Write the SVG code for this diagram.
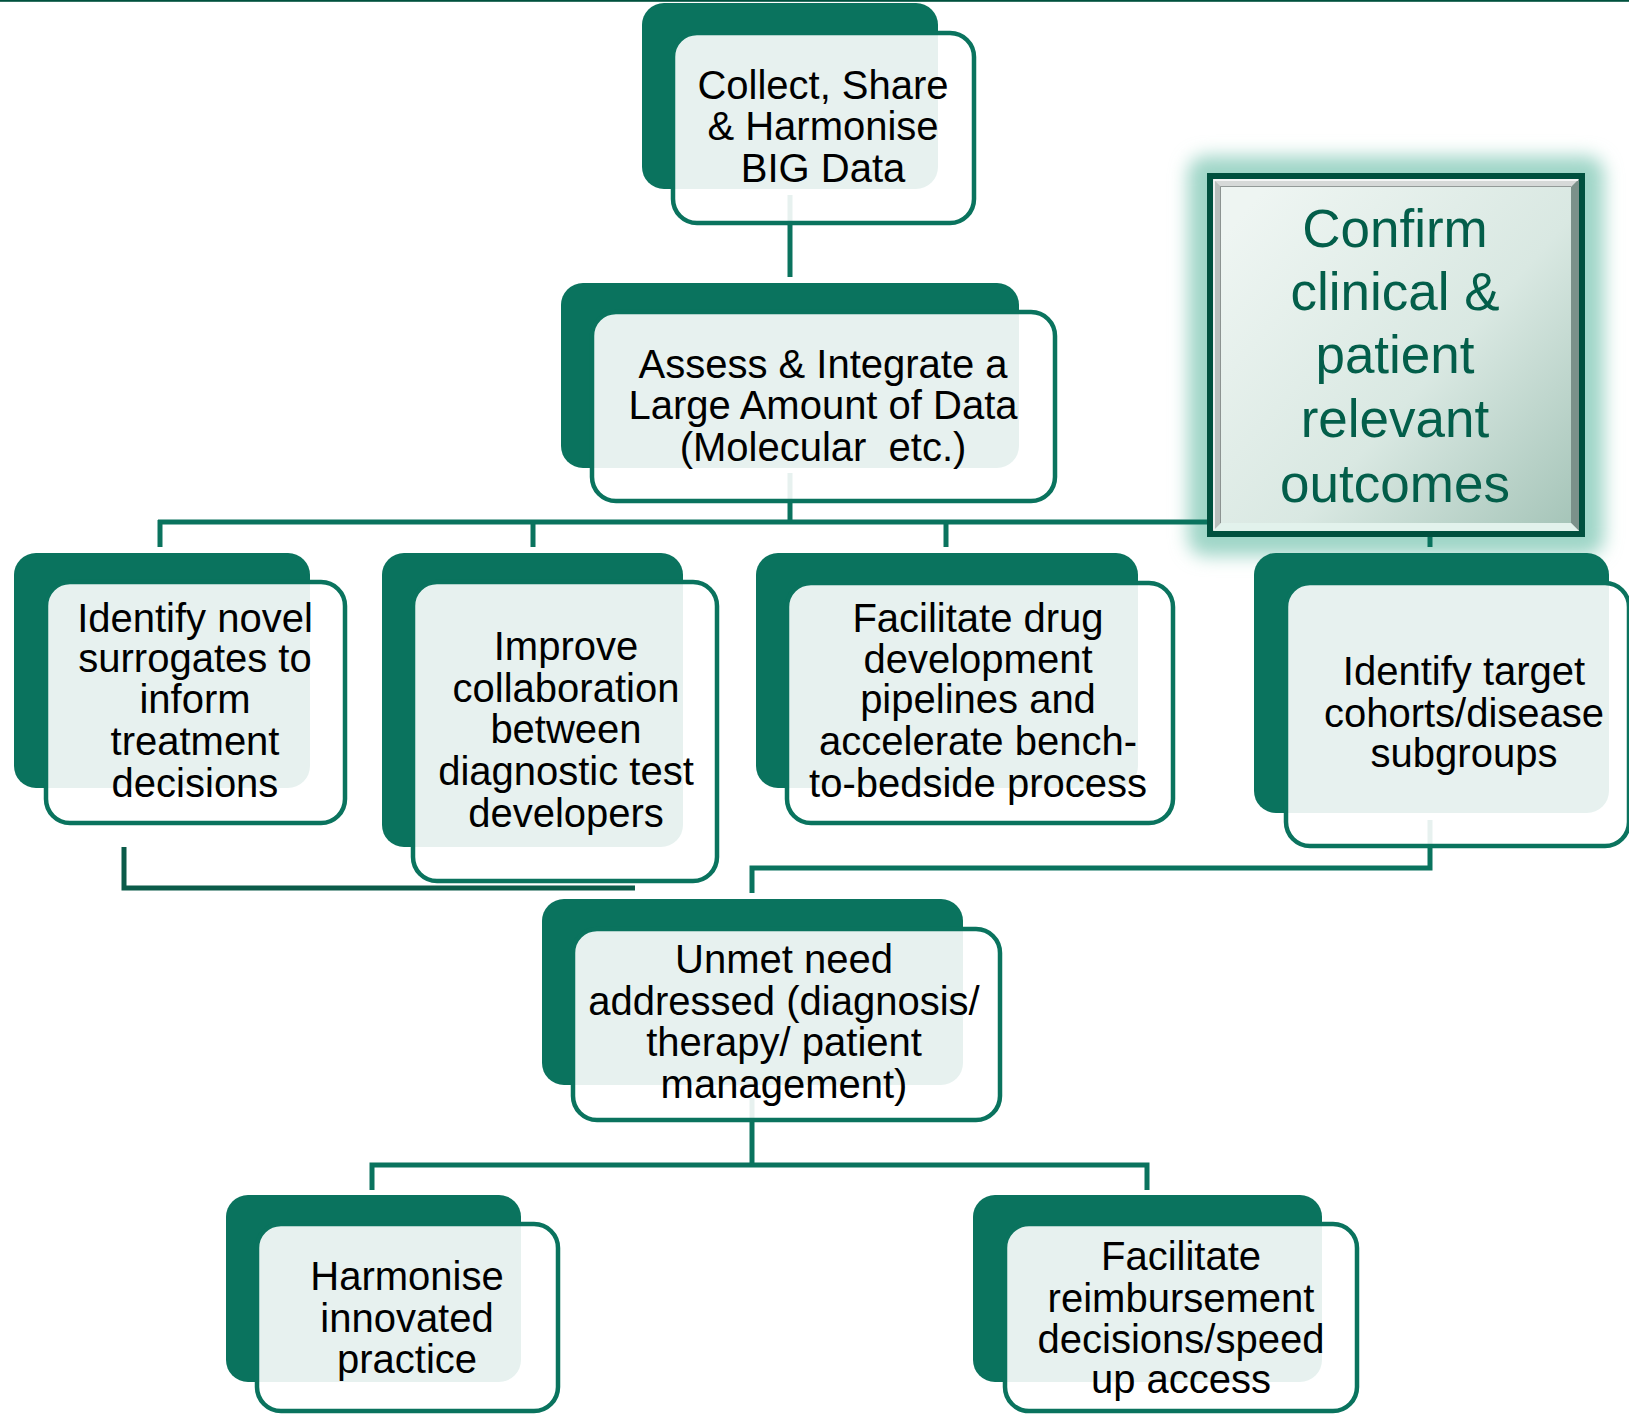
<svg xmlns="http://www.w3.org/2000/svg" width="1629" height="1414" viewBox="0 0 1629 1414">
<style>
.back{fill:#0a735e}
.front{fill:#ffffff;fill-opacity:0.9;stroke:#0a735e;stroke-width:4.5}
.conn{fill:none;stroke:#0a735e;stroke-width:5}
.conn2{fill:none;stroke:#0b5b49;stroke-width:5}
.t{font-family:"Liberation Sans",Arial,sans-serif;font-size:40px;fill:#000000;text-anchor:middle}
.ct{font-family:"Liberation Sans",Arial,sans-serif;font-size:53px;fill:#035e4a;text-anchor:middle}
</style>
<defs>
<filter id="glow" x="-20%" y="-20%" width="140%" height="140%">
<feGaussianBlur stdDeviation="9"/>
</filter>
<linearGradient id="cfill" x1="0" y1="0.15" x2="1" y2="1">
<stop offset="0" stop-color="#eef5f2"/>
<stop offset="0.55" stop-color="#d9e8e2"/>
<stop offset="1" stop-color="#a6c5b9"/>
</linearGradient>
</defs>
<rect x="0" y="0" width="1629" height="1.8" fill="#00513e"/>

<g id="confirm-glow">
<rect x="1188" y="156" width="416" height="400" rx="18" fill="#9fd5c7" filter="url(#glow)"/>
</g>

<g id="connectors">
<path class="conn" d="M790,195 V277"/>
<path class="conn" d="M790,473 V522"/>
<path class="conn" d="M158,522 H1209"/>
<path class="conn" d="M160,520 V547"/>
<path class="conn" d="M533,522 V547"/>
<path class="conn" d="M946,522 V547"/>
<path class="conn" d="M1430,536 V547"/>
<path class="conn" d="M1430,820 V868 H752 V893"/>
<path class="conn2" d="M124,847 V888 H635"/>
<path class="conn" d="M752,1098 V1165"/>
<path class="conn" d="M372,1190 V1165 H1147 V1190"/>
</g>

<g id="confirm">
<rect x="1207" y="173" width="378" height="364" fill="#00503e"/>
<rect x="1213" y="179" width="366" height="352" fill="#c9cdcb"/>
<polygon points="1213,179 1579,179 1571,187 1221,187" fill="#d6d9d8"/>
<polygon points="1213,179 1221,187 1221,523 1213,531" fill="#b9bebc"/>
<polygon points="1579,179 1579,531 1571,523 1571,187" fill="#7b918a"/>
<polygon points="1213,531 1221,523 1571,523 1579,531" fill="#e2f2ec"/>
<path d="M1214,530 V180 H1578" fill="none" stroke="#ffffff" stroke-width="1.5"/>
<path d="M1221,523 V187 H1571" fill="none" stroke="#7e8583" stroke-width="1.5"/>
<rect x="1221" y="187" width="350" height="336" fill="url(#cfill)"/>
<text class="ct" x="1395" y="247">Confirm</text>
<text class="ct" x="1395" y="310">clinical &amp;</text>
<text class="ct" x="1395" y="373">patient</text>
<text class="ct" x="1395" y="437">relevant</text>
<text class="ct" x="1395" y="502">outcomes</text>
</g>

<g id="n1">
<rect class="back" x="642" y="3" width="296" height="186" rx="22"/>
<rect class="front" x="673" y="33" width="301" height="190" rx="24"/>
<text class="t" x="823" y="99">Collect, Share</text>
<text class="t" x="823" y="140">&amp; Harmonise</text>
<text class="t" x="823" y="182">BIG Data</text>
</g>

<g id="n2">
<rect class="back" x="561" y="283" width="458" height="185" rx="22"/>
<rect class="front" x="592" y="312" width="463" height="189" rx="24"/>
<text class="t" x="823" y="378">Assess &amp; Integrate a</text>
<text class="t" x="823" y="419">Large Amount of Data</text>
<text class="t" x="823" y="461" xml:space="preserve">(Molecular  etc.)</text>
</g>

<g id="n3">
<rect class="back" x="14" y="553" width="296" height="235" rx="22"/>
<rect class="front" x="46" y="582" width="299" height="241" rx="24"/>
<text class="t" x="195" y="632">Identify novel</text>
<text class="t" x="195" y="672">surrogates to</text>
<text class="t" x="195" y="713">inform</text>
<text class="t" x="195" y="755">treatment</text>
<text class="t" x="195" y="797">decisions</text>
</g>

<g id="n4">
<rect class="back" x="382" y="553" width="301" height="294" rx="22"/>
<rect class="front" x="413" y="582" width="304" height="299" rx="24"/>
<text class="t" x="566" y="660">Improve</text>
<text class="t" x="566" y="702">collaboration</text>
<text class="t" x="566" y="743">between</text>
<text class="t" x="566" y="785">diagnostic test</text>
<text class="t" x="566" y="827">developers</text>
</g>

<g id="n5">
<rect class="back" x="756" y="553" width="382" height="235" rx="22"/>
<rect class="front" x="787" y="583" width="386" height="240" rx="24"/>
<text class="t" x="978" y="632">Facilitate drug</text>
<text class="t" x="978" y="673">development</text>
<text class="t" x="978" y="713">pipelines and</text>
<text class="t" x="978" y="755">accelerate bench-</text>
<text class="t" x="978" y="797">to-bedside process</text>
</g>

<g id="n6">
<rect class="back" x="1254" y="553" width="355" height="260" rx="22"/>
<rect class="front" x="1286" y="583" width="343" height="263" rx="24"/>
<text class="t" x="1464" y="685">Identify target</text>
<text class="t" x="1464" y="727">cohorts/disease</text>
<text class="t" x="1464" y="767">subgroups</text>
</g>

<g id="n7">
<rect class="back" x="542" y="899" width="421" height="186" rx="22"/>
<rect class="front" x="573" y="929" width="427" height="191" rx="24"/>
<text class="t" x="784" y="973">Unmet need</text>
<text class="t" x="784" y="1015">addressed (diagnosis/</text>
<text class="t" x="784" y="1056">therapy/ patient</text>
<text class="t" x="784" y="1098">management)</text>
</g>

<g id="n8">
<rect class="back" x="226" y="1195" width="295" height="187" rx="22"/>
<rect class="front" x="257" y="1224" width="301" height="187" rx="24"/>
<text class="t" x="407" y="1290">Harmonise</text>
<text class="t" x="407" y="1332">innovated</text>
<text class="t" x="407" y="1373">practice</text>
</g>

<g id="n9">
<rect class="back" x="973" y="1195" width="349" height="187" rx="22"/>
<rect class="front" x="1005" y="1224" width="352" height="187" rx="24"/>
<text class="t" x="1181" y="1270">Facilitate</text>
<text class="t" x="1181" y="1312">reimbursement</text>
<text class="t" x="1181" y="1353">decisions/speed</text>
<text class="t" x="1181" y="1393">up access</text>
</g>
</svg>
